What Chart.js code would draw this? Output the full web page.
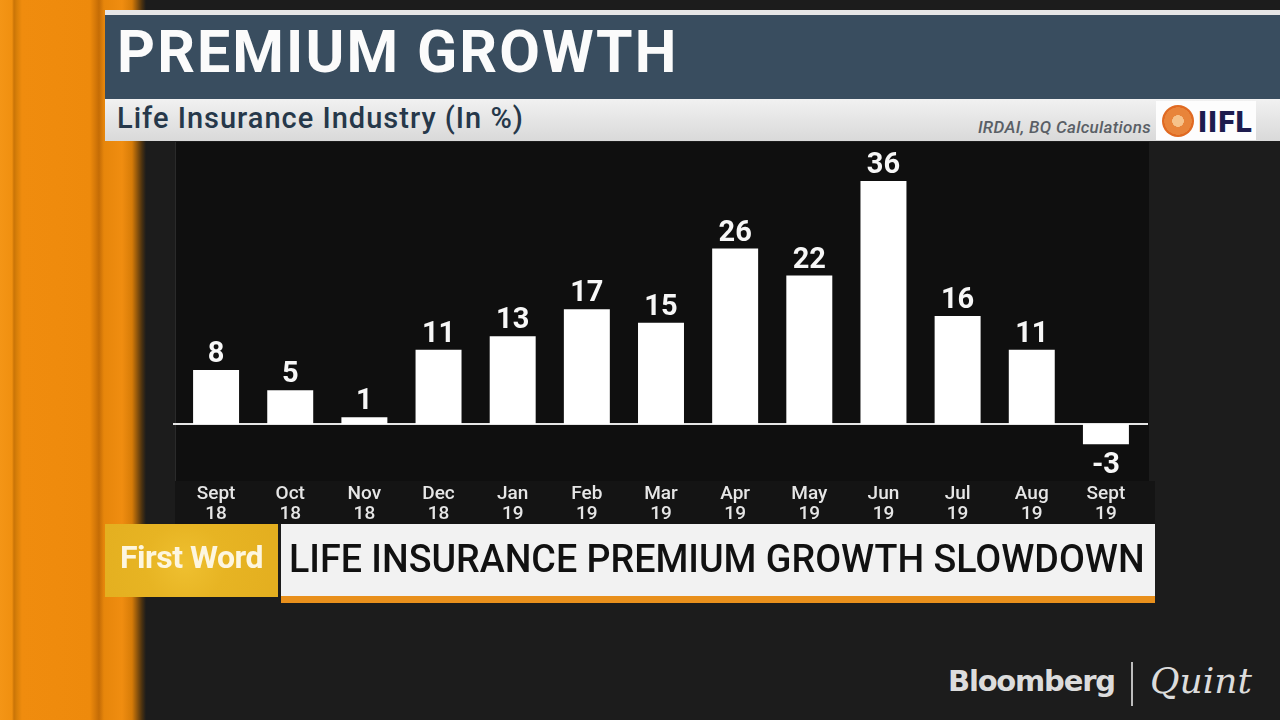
<!DOCTYPE html>
<html>
<head>
<meta charset="utf-8">
<script src="https://cdn.jsdelivr.net/npm/chart.js@4.4.1/dist/chart.umd.min.js"></script>
<style>
  html,body{margin:0;padding:0;width:1280px;height:720px;overflow:hidden;background:#1c1c1c;font-family:Roboto,"Noto Sans",sans-serif;}
  .abs{position:absolute;}
  #orange{left:0;top:0;width:146px;height:720px;
    background:linear-gradient(90deg,#f49516 0px,#f09010 12px,#c97407 14px,#d98009 17px,#f08c0e 22px,#ee8a0c 90px,#c46c06 99px,#e7860b 104px,#f08d10 122px,#d77c08 132px,#4a3110 142px,#1c1c1c 146px);}
  #topline{left:105px;top:10px;width:1175px;height:5px;background:#e6e6e6;}
  #titlebar{left:105px;top:15px;width:1175px;height:84px;background:#394d5f;}
  #title{left:117px;top:17px;font:700 59px Roboto;color:#fbfbfb;letter-spacing:2.1px;}
  #subbar{left:105px;top:99px;width:1175px;height:42px;background:linear-gradient(180deg,#f1f1f1,#d9d9d9);}
  #subtitle{left:117px;top:101px;font:500 29px Roboto;color:#26384a;letter-spacing:1px;}
  #source{left:0;top:117px;width:1151px;text-align:right;font:italic 500 17px Roboto;color:#5a5f66;letter-spacing:0.3px;}
  #logo{left:1156px;top:101px;width:100px;height:39px;background:#fdfdfd;}
  #logoc{left:1162px;top:105px;width:32px;height:32px;border-radius:50%;background:radial-gradient(circle,#f6c28a 0 25%,#e8843a 26% 60%,#e06a22 61%);}
  #logot{left:1198px;top:104px;font:900 30px Roboto;color:#1d1c4e;letter-spacing:1px;}
  #panel{left:175px;top:142px;width:973px;height:339px;background:#0f0f0f;border-left:1px solid #2a2a2a;}
  #labpanel{left:175px;top:481px;width:980px;height:43px;background:#141414;}
  #chartwrap{left:170px;top:142px;}
  #fw{left:105px;top:524px;width:173px;height:73px;background:radial-gradient(circle at 80px 40px,#efc030 0,#e7b423 40%,#e3ae1f 100%);}
  #fwt{left:105px;top:538px;width:173px;text-align:center;font:700 32px Roboto;color:#fdf6e0;letter-spacing:-0.5px;}
  #hbox{left:281px;top:524px;width:874px;height:72px;background:#f2f2f2;}
  #hline{left:281px;top:596px;width:874px;height:7px;background:#e9901c;}
  #ht{left:289px;top:537px;font:500 38px Roboto;color:#111;transform-origin:0 0;transform:scaleX(0.99);white-space:nowrap;}
  #bb{left:948px;top:664px;font:700 29px "DejaVu Sans",Roboto;color:#dcdcdc;letter-spacing:-1.2px;}
  #sep{left:1131px;top:662px;width:2px;height:44px;background:#bdbdbd;}
  #quint{left:1150px;top:660px;font:italic 400 36px "DejaVu Serif","Liberation Serif",serif;color:#dcdcdc;}
</style>
</head>
<body>
<div class="abs" id="orange"></div>
<div class="abs" id="topline"></div>
<div class="abs" id="titlebar"></div>
<div class="abs" id="title">PREMIUM GROWTH</div>
<div class="abs" id="subbar"></div>
<div class="abs" id="subtitle">Life Insurance Industry (In %)</div>
<div class="abs" id="source">IRDAI, BQ Calculations</div>
<div class="abs" id="logo"></div>
<div class="abs" id="logoc"></div>
<div class="abs" id="logot">IIFL</div>
<div class="abs" id="panel"></div>
<div class="abs" id="labpanel"></div>
<div class="abs" id="chartwrap"><canvas id="c" width="985" height="383"></canvas></div>
<div class="abs" id="fw"></div>
<div class="abs" id="fwt">First Word</div>
<div class="abs" id="hbox"></div>
<div class="abs" id="hline"></div>
<div class="abs" id="ht">LIFE INSURANCE PREMIUM GROWTH SLOWDOWN</div>
<div class="abs" id="bb">Bloomberg</div>
<div class="abs" id="sep"></div>
<div class="abs" id="quint">Quint</div>
<script>
const months = ["Sept","Oct","Nov","Dec","Jan","Feb","Mar","Apr","May","Jun","Jul","Aug","Sept"];
const years  = ["18","18","18","18","19","19","19","19","19","19","19","19","19"];
const values = [8, 5, 1, 11, 13, 17, 15, 26, 22, 36, 16, 11, -3];
const yMin = -8, yMax = 40;

const labels = months.map((m, i) => [m, years[i]]);

const zeroLine = {
  id: 'zeroLine',
  beforeDatasetsDraw(chart) {
    const ctx = chart.ctx, y = chart.scales.y.getPixelForValue(0);
    ctx.save();
    ctx.strokeStyle = '#e6e6e6';
    ctx.lineWidth = 2;
    ctx.beginPath();
    ctx.moveTo(3, y);
    ctx.lineTo(978, y);
    ctx.stroke();
    ctx.restore();
  }
};

const valueLabels = {
  id: 'valueLabels',
  afterDatasetsDraw(chart) {
    const ctx = chart.ctx;
    const meta = chart.getDatasetMeta(0);
    ctx.save();
    ctx.fillStyle = '#f7f7f7';
    ctx.font = '700 29px Roboto';
    ctx.textAlign = 'center';
    ctx.textBaseline = 'alphabetic';
    meta.data.forEach((bar, i) => {
      const v = chart.data.datasets[0].data[i];
      const txt = String(v);
      if (v >= 0) ctx.fillText(txt, bar.x, bar.y - 8);
      else ctx.fillText(txt, bar.x, bar.y + 29);
    });
    ctx.restore();
  }
};

new Chart(document.getElementById('c'), {
  type: 'bar',
  data: {
    labels: labels,
    datasets: [{
      data: values,
      backgroundColor: '#ffffff',
      borderWidth: 0,
      barPercentage: 0.62,
      categoryPercentage: 1.0
    }]
  },
  options: {
    responsive: false,
    animation: false,
    layout: { padding: { left: 9, right: 12, top: 12, bottom: 2 } },
    plugins: { legend: { display: false }, tooltip: { enabled: false }, title: { display: false } },
    scales: {
      x: {
        grid: { display: false, drawTicks: false },
        border: { display: false },
        ticks: {
          color: '#e6e6e6',
          font: { family: 'Roboto', size: 19, weight: '500', lineHeight: 1.05 },
          padding: 6,
          maxRotation: 0,
          autoSkip: false
        },
        afterFit(scale) { scale.height = 45; }
      },
      y: {
        display: false,
        min: yMin,
        max: yMax
      }
    }
  },
  plugins: [zeroLine, valueLabels]
});
</script>
</body>
</html>
